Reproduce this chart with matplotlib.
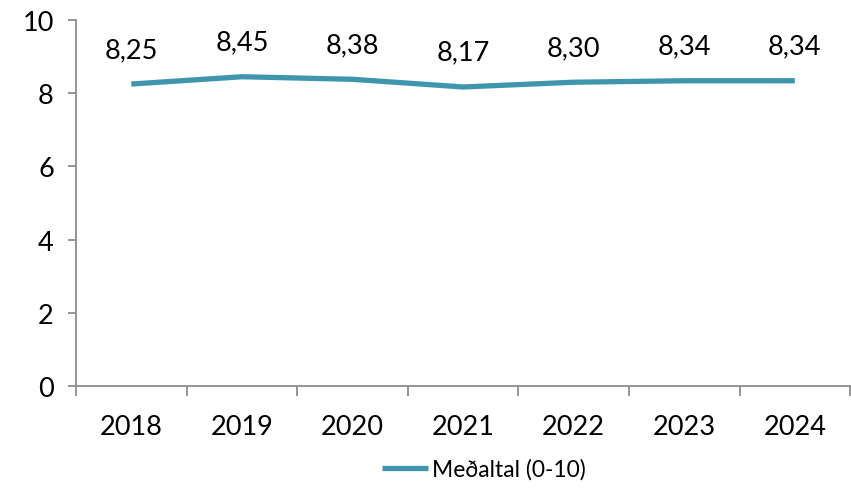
import matplotlib
matplotlib.use('Agg')
from matplotlib import pyplot as plt
from matplotlib.ticker import FixedLocator, NullFormatter

years = ['2018', '2019', '2020', '2021', '2022', '2023', '2024']
values = [8.25, 8.45, 8.38, 8.17, 8.30, 8.34, 8.34]
labels = ['8,25', '8,45', '8,38', '8,17', '8,30', '8,34', '8,34']
series_name = 'Meðaltal (0-10)'

plt.rcParams['font.family'] = ['Lato', 'DejaVu Sans']
line_color = '#3E96AC'
axis_color = '#8C8C8C'

fig = plt.figure(figsize=(8.51, 4.89), dpi=100)
ax = fig.add_axes([76/851, 1-387/489, 1-76/851-0.001, (387-21)/489])

x = list(range(len(years)))
ln, = ax.plot(x, values, color=line_color, lw=3.8, solid_capstyle='butt', label=series_name)
for xi, v, t in zip(x, values, labels):
    ax.annotate(t, (xi, v), xytext=(0, 16), textcoords='offset points',
                ha='center', va='bottom', fontsize=19.5)

ax.set_xlim(-0.5, len(years) - 0.5)
ax.set_ylim(0, 10)
ax.set_yticks([0, 2, 4, 6, 8, 10])
ax.set_xticks(x)
ax.set_xticklabels(years)
ax.xaxis.set_minor_locator(FixedLocator([i - 0.5 for i in range(len(years) + 1)]))
ax.xaxis.set_minor_formatter(NullFormatter())
ax.tick_params(axis='x', which='major', length=0, pad=20, labelsize=19.5)
ax.tick_params(axis='x', which='minor', length=7, width=1.3, color=axis_color)
ax.tick_params(axis='y', length=6, width=1.3, color=axis_color, pad=10, labelsize=19.5)

for s in ['top', 'right']:
    ax.spines[s].set_visible(False)
for s in ['left', 'bottom']:
    ax.spines[s].set_color(axis_color)
    ax.spines[s].set_linewidth(1.3)

fig.legend(handles=[ln], loc='center', bbox_to_anchor=(484/851, 1-470/489),
           frameon=False, fontsize=16.5, handlelength=2.0, handletextpad=0.2)

fig.savefig('out.png', dpi=100)
